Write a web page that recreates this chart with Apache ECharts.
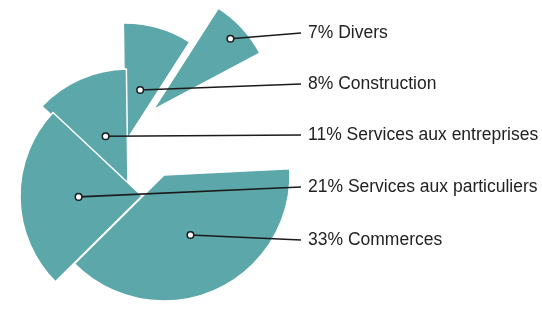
<!DOCTYPE html>
<html>
<head>
<meta charset="utf-8">
<title>Répartition par secteur</title>
<script src="https://cdn.jsdelivr.net/npm/echarts/dist/echarts.min.js"></script>
<style>
    html, body { margin: 0; padding: 0; background: #fff; }
    #chart { width: 542px; height: 311px; }
</style>
</head>
<body>
<div id="chart"></div>
<script>
// secteurs, dans l'ordre des libellés (de haut en bas)
var categories = ['Divers', 'Construction', 'Services aux entreprises', 'Services aux particuliers', 'Commerces'];
var values = [7, 8, 11, 21, 33];

var teal = '#5ca7a9';
var gapValue = 6;      // vide laissé en haut à droite du camembert
var startAngle = 28;   // bord droit de "Divers"
// chaque part est décalée à la main comme sur le dessin
var centers = [[153, 110], [125, 143], [128, 187], [142, 196], [164, 175]];
var radii = [121, 120, 118, 122, 126];
var drawOrder = [1, 0, 2, 3, 4];        // "Divers" recouvre "Construction", "Commerces" recouvre les particuliers
var anchorFrac = [0.87, 0.46, 0.47, 0.52, 0.52];  // position du point dans la part
var labelYs = [33, 84, 135, 187, 240];
var labelX = 308;

var chart = echarts.init(document.getElementById('chart'));

var total = gapValue;
for (var i = 0; i < values.length; i++) {
    total += values[i];
}

var series = drawOrder.map(function (k) {
    var data = categories.map(function (name, i) {
        var own = i === k;
        return {
            name: name,
            value: values[i],
            itemStyle: own ? { color: teal, borderColor: '#fff', borderWidth: 1.5 }
                           : { color: 'transparent', borderWidth: 0 },
            label: { show: own }
        };
    });
    data.push({ name: '', value: gapValue, itemStyle: { color: 'transparent', borderWidth: 0 }, label: { show: false } });
    return {
        type: 'pie',
        center: centers[k],
        radius: radii[k],
        startAngle: startAngle,
        clockwise: false,
        silent: true,
        animation: false,
        avoidLabelOverlap: false,
        data: data,
        label: {
            position: 'outside',
            color: '#222',
            fontFamily: 'Liberation Sans, Arial, sans-serif',
            fontSize: 17.5,
            formatter: function (p) {
                return p.value + '% ' + p.name;
            }
        },
        labelLine: { show: false },
        labelLayout: function (params) {
            return { x: labelX, y: labelYs[params.dataIndex], align: 'left', verticalAlign: 'middle' };
        }
    };
});

// traits de rappel : du point dans la part jusqu'au libellé
var graphics = [];
var cum = 0;
for (var i = 0; i < values.length; i++) {
    var a0 = startAngle + cum / total * 360;
    var a1 = startAngle + (cum + values[i]) / total * 360;
    cum += values[i];
    var am = (a0 + a1) / 2 * Math.PI / 180;
    var d = anchorFrac[i] * radii[i];
    var ax = centers[i][0] + d * Math.cos(am);
    var ay = centers[i][1] - d * Math.sin(am);
    graphics.push({
        type: 'polyline',
        z: 100,
        silent: true,
        shape: { points: [[ax, ay], [labelX - 7, labelYs[i]]] },
        style: { stroke: '#1b1b1b', lineWidth: 1.6, fill: null }
    });
    graphics.push({
        type: 'circle',
        z: 101,
        silent: true,
        shape: { cx: ax, cy: ay, r: 3.3 },
        style: { fill: '#fff', stroke: '#1b1b1b', lineWidth: 1.5 }
    });
}

chart.setOption({
    backgroundColor: '#fff',
    animation: false,
    series: series,
    graphic: graphics
});

window.addEventListener('resize', function () {
    chart.resize();
});
</script>
</body>
</html>
